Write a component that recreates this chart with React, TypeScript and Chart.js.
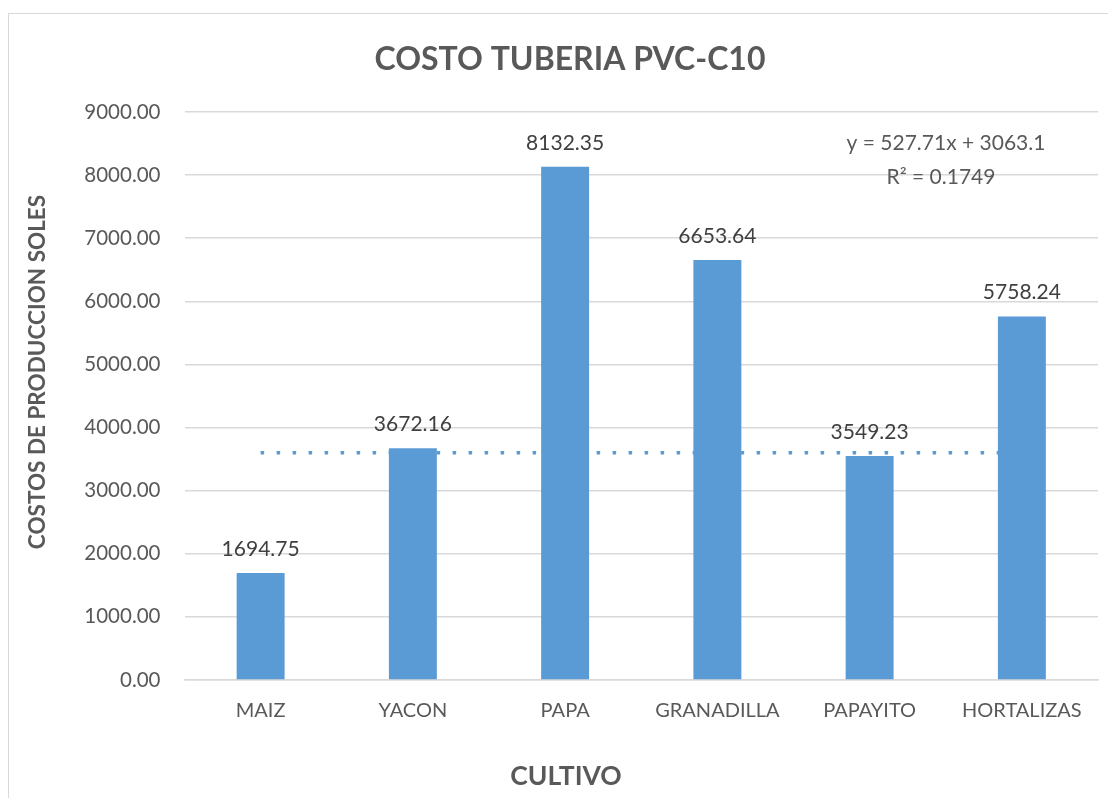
import React, { useEffect, useRef } from "react";
import { Chart, registerables } from "chart.js";

Chart.register(...registerables);

const categories = ["MAIZ", "YACON", "PAPA", "GRANADILLA", "PAPAYITO", "HORTALIZAS"];
const costs = [1694.75, 3672.16, 8132.35, 6653.64, 3549.23, 5758.24];
const trendValues = [3600, 3600, 3600, 3600, 3600, 3600];
const yTicks = [0, 1000, 2000, 3000, 4000, 5000, 6000, 7000, 8000, 9000];
const chartTitle = "COSTO TUBERIA PVC-C10";
const yTitle = "COSTOS DE PRODUCCION SOLES";
const xTitle = "CULTIVO";
const trendEquation = "y = 527.71x + 3063.1";
const trendR2 = "R² = 0.1749";

const FONT = "Lato, 'Open Sans', sans-serif";
const TEXT = "#595959";
const BAR = "#5B9BD5";
const GRID = "#D9D9D9";

const W = 1107;
const H = 784;

const textPlugin = {
  id: "texts",
  afterDatasetsDraw(chart: any) {
    const ctx = chart.ctx;
    const area = chart.chartArea;
    ctx.save();
    // data labels
    const meta = chart.getDatasetMeta(0);
    ctx.fillStyle = "#404040";
    ctx.font = `21px ${FONT}`;
    ctx.textAlign = "center";
    ctx.textBaseline = "middle";
    meta.data.forEach((bar: any, i: number) => {
      ctx.fillText(costs[i].toFixed(2), bar.x, bar.y - 24);
    });
    // title
    ctx.fillStyle = TEXT;
    ctx.font = `bold 32px ${FONT}`;
    ctx.fillText(chartTitle, 561, 46);
    // x title
    ctx.font = `bold 26.5px ${FONT}`;
    ctx.fillText(xTitle, 557, 762);
    // y title
    ctx.save();
    ctx.translate(29, 358);
    ctx.rotate(-Math.PI / 2);
    ctx.font = `bold 22.5px ${FONT}`;
    ctx.fillText(yTitle, 0, 0);
    ctx.restore();
    // trendline equation
    ctx.font = `21px ${FONT}`;
    ctx.fillText(trendEquation, area.right - 152, 129);
    ctx.fillText(trendR2, area.right - 157, 163);
    ctx.restore();
  },
};

export default function App() {
  const ref = useRef<HTMLCanvasElement | null>(null);
  useEffect(() => {
    if (!ref.current) return;
    const chart = new Chart(ref.current, {
      type: "bar",
      data: {
        labels: categories,
        datasets: [
          {
            type: "bar",
            data: costs,
            backgroundColor: BAR,
            categoryPercentage: 0.315,
            barPercentage: 1,
            order: 2,
          },
          {
            type: "line",
            data: trendValues,
            borderColor: BAR,
            borderWidth: 3.5,
            borderDash: [3.5, 12.5],
            borderCapStyle: "butt",
            pointRadius: 0,
            fill: false,
            order: 1,
          } as any,
        ],
      },
      options: {
        responsive: false,
        animation: false,
        devicePixelRatio: 1,
        layout: { padding: { top: 98, right: 18, left: 0, bottom: 0 } },
        plugins: {
          legend: { display: false },
          title: { display: false },
          tooltip: { enabled: false },
        },
        scales: {
          x: {
            grid: { display: false, drawTicks: false },
            border: { display: true, color: GRID, width: 1.5 },
            ticks: { color: TEXT, font: { family: FONT, size: 20 }, padding: 19, maxRotation: 0 },
            afterFit: (s: any) => {
              s.height = 118;
            },
          },
          y: {
            min: 0,
            max: 9000,
            afterBuildTicks: (s: any) => {
              s.ticks = yTicks.map((v) => ({ value: v }));
            },
            grid: { color: GRID, lineWidth: 1.5, drawTicks: false },
            border: { display: false },
            ticks: {
              color: TEXT,
              font: { family: FONT, size: 20.5 },
              padding: 24,
              callback: (v: any) => Number(v).toFixed(2),
            },
            afterFit: (s: any) => {
              s.width = 175.5;
            },
          },
        },
      },
      plugins: [textPlugin],
    });
    return () => chart.destroy();
  }, []);

  return (
    <div
      style={{
        marginTop: 5,
        width: 1120,
        height: 800,
        border: "1px solid #D9D9D9",
        background: "#fff",
        boxSizing: "border-box",
      }}
    >
      <canvas ref={ref} width={W} height={H} style={{ display: "block", width: W, height: H }} />
    </div>
  );
}
